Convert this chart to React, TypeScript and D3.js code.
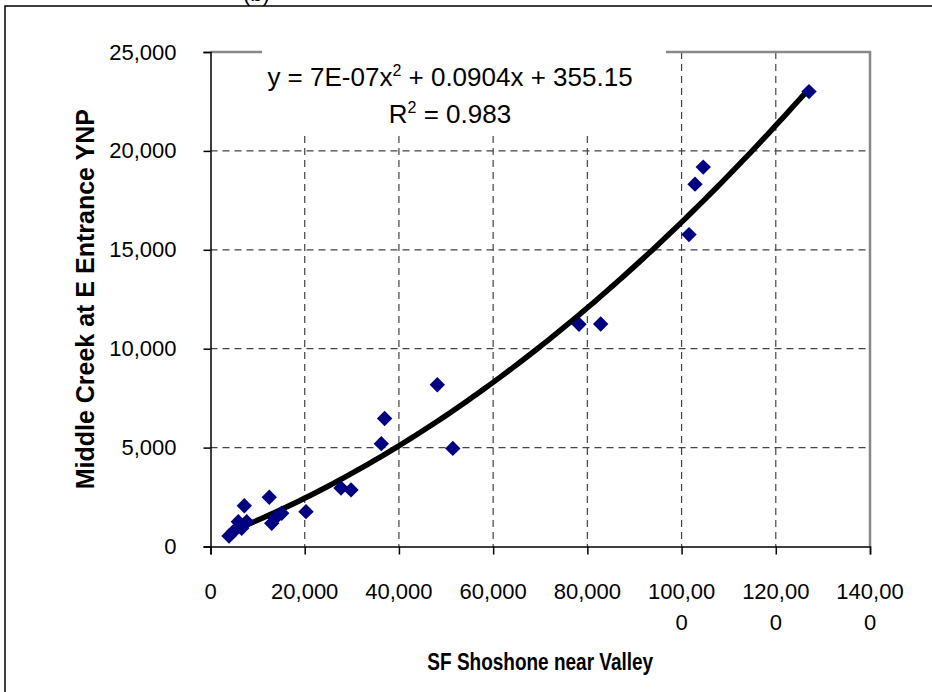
import React, { useEffect, useRef } from 'react';
import * as d3 from 'd3';

// flow pairs
const shoshoneFlow = [
  3930, 4840, 5900, 6620, 7680, 7180, 12480, 12990, 13690, 15110, 20270,
  27700, 29830, 36260, 36960, 48150, 51440, 78230, 82830, 101580, 102850, 104600, 127050,
];
const middleCreekFlow = [
  530, 750, 1250, 920, 1250, 2060, 2490, 1170, 1430, 1680, 1760,
  2960, 2860, 5200, 6470, 8180, 4960, 11230, 11250, 15770, 18320, 19180, 23000,
];

// displayed polynomial trend: y = 7E-07x^2 + 0.0904x + 355.15
const trendCoef = [355.15, 0.0904, 7e-7];
const xTicks = [0, 20000, 40000, 60000, 80000, 100000, 120000, 140000];
const yTicks = [0, 5000, 10000, 15000, 20000, 25000];

const W = 932;
const H = 692;

const App: React.FC = () => {
  const svgRef = useRef<SVGSVGElement>(null);

  useEffect(() => {
    if (!svgRef.current) return;
    const svg = d3.select(svgRef.current);
    svg.selectAll('*').remove();

    const left = 210.5, right = 870, top = 52, bottom = 546.5;
    const x = d3.scaleLinear().domain([0, 140000]).range([left, right]);
    const y = d3.scaleLinear().domain([0, 25000]).range([bottom, top]);
    const font = 'Liberation Sans, Arial, sans-serif';

    svg.append('rect').attr('width', W).attr('height', H).attr('fill', '#fff');

    // cut-off title above the frame
    svg.append('text')
      .attr('x', 243).attr('y', 1)
      .attr('font-family', font).attr('font-size', 22)
      .text('(b)');

    // outer frame
    svg.append('rect')
      .attr('x', 5).attr('y', 6).attr('width', 960).attr('height', 720)
      .attr('fill', 'none').attr('stroke', '#000').attr('stroke-width', 1.5);

    // grid
    const grid = svg.append('g').attr('stroke', '#444').attr('stroke-width', 1.2)
      .attr('stroke-dasharray', '7,5');
    grid.selectAll('line.v').data(xTicks.slice(1, -1)).join('line')
      .attr('x1', d => x(d)).attr('x2', d => x(d))
      .attr('y1', top).attr('y2', bottom);
    grid.selectAll('line.h').data(yTicks.slice(1, -1)).join('line')
      .attr('x1', left).attr('x2', right)
      .attr('y1', d => y(d)).attr('y2', d => y(d));

    // plot frame: gray top / right
    svg.append('path')
      .attr('d', `M${left},${top}H${right}V${bottom}`)
      .attr('fill', 'none').attr('stroke', '#888').attr('stroke-width', 2.5);

    // equation label box
    svg.append('rect')
      .attr('x', 262).attr('y', 44).attr('width', 404).attr('height', 90)
      .attr('fill', '#fff');

    const eq = svg.append('text')
      .attr('x', 450).attr('y', 86)
      .attr('text-anchor', 'middle')
      .attr('font-family', font).attr('font-size', 26);
    eq.append('tspan').text('y = 7E-07x');
    eq.append('tspan').attr('dy', -10).attr('font-size', 16).text('2');
    eq.append('tspan').attr('dy', 10).text(' + 0.0904x + 355.15');

    const r2 = svg.append('text')
      .attr('x', 450).attr('y', 123)
      .attr('text-anchor', 'middle')
      .attr('font-family', font).attr('font-size', 26);
    r2.append('tspan').text('R');
    r2.append('tspan').attr('dy', -10).attr('font-size', 16).text('2');
    r2.append('tspan').attr('dy', 10).text(' = 0.983');

    // axes
    const yAxis = svg.append('g')
      .attr('transform', `translate(${left},0)`)
      .call(d3.axisLeft(y).tickValues(yTicks).tickSize(7).tickPadding(27)
        .tickFormat(d => d3.format(',')(d as number)));
    yAxis.select('.domain').attr('stroke', '#000').attr('stroke-width', 1.5);
    yAxis.selectAll('.tick line').attr('stroke', '#000').attr('stroke-width', 1.5);
    yAxis.selectAll('.tick text')
      .attr('font-family', font).attr('font-size', 22).attr('fill', '#000');

    const xAxis = svg.append('g')
      .attr('transform', `translate(0,${bottom})`)
      .call(d3.axisBottom(x).tickValues(xTicks).tickSize(8).tickFormat(() => ''));
    xAxis.select('.domain').attr('stroke', '#000').attr('stroke-width', 1.5);
    xAxis.selectAll('.tick line').attr('stroke', '#000').attr('stroke-width', 1.5);
    xAxis.selectAll('.tick text').remove();

    // wrapped x tick labels (Excel breaks "100,000" as "100,00" / "0")
    const xl = svg.append('g')
      .attr('font-family', font).attr('font-size', 22).attr('text-anchor', 'middle');
    xTicks.forEach(t => {
      const s = d3.format(',')(t);
      const lines = s.length > 6 ? [s.slice(0, 6), s.slice(6)] : [s];
      const txt = xl.append('text').attr('x', x(t)).attr('y', bottom + 52);
      lines.forEach((ln, i) => {
        txt.append('tspan').attr('x', x(t)).attr('dy', i === 0 ? 0 : 31).text(ln);
      });
    });

    // trend curve
    const trend = (v: number) => trendCoef[0] + trendCoef[1] * v + trendCoef[2] * v * v;
    const [xmin, xmax] = d3.extent(shoshoneFlow) as [number, number];
    const xs = d3.range(0, 101).map(i => xmin + (xmax - xmin) * i / 100);
    svg.append('path')
      .datum(xs)
      .attr('fill', 'none').attr('stroke', '#000').attr('stroke-width', 5.5)
      .attr('stroke-linecap', 'round')
      .attr('d', d3.line<number>().x(d => x(d)).y(d => y(trend(d))));

    // points
    const diamond = d3.symbol(d3.symbolSquare, 118)();
    svg.append('g').selectAll('path')
      .data(shoshoneFlow.map((v, i) => [v, middleCreekFlow[i]]))
      .join('path')
      .attr('d', diamond)
      .attr('fill', '#000080')
      .attr('transform', d => `translate(${x(d[0])},${y(d[1])}) rotate(45)`);

    // titles
    svg.append('text')
      .attr('transform', `translate(${(left + right) / 2},670) scale(1,1.3)`)
      .attr('text-anchor', 'middle')
      .attr('font-family', font).attr('font-size', 19).attr('font-weight', 'bold')
      .text('SF Shoshone near Valley');

    svg.append('text')
      .attr('transform', `translate(94,${(top + bottom) / 2}) rotate(-90)`)
      .attr('text-anchor', 'middle')
      .attr('font-family', font).attr('font-size', 25).attr('font-weight', 'bold')
      .text('Middle Creek at E Entrance YNP');
  }, []);

  return (
    <svg
      ref={svgRef}
      width={W}
      height={H}
      style={{ position: 'absolute', left: 0, top: 0, display: 'block' }}
    />
  );
};

export default App;
